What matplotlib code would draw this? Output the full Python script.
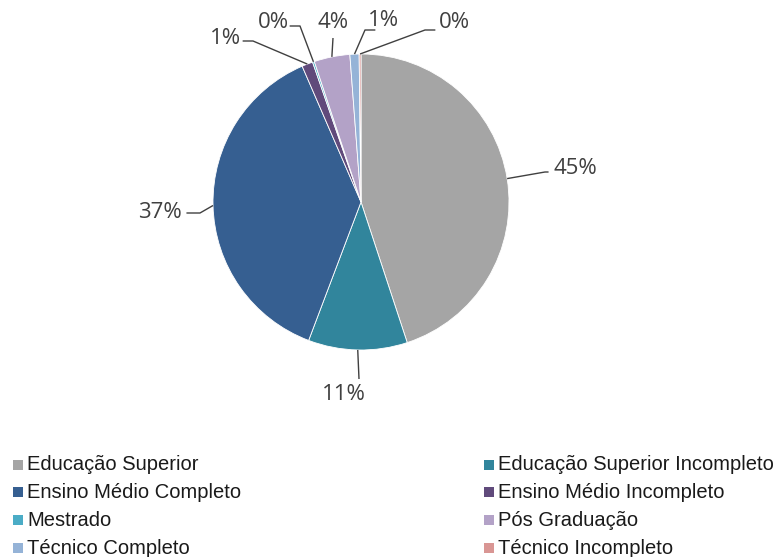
import numpy as np
import matplotlib.pyplot as plt
from matplotlib.patches import Rectangle

# dados do gráfico
categorias = ["Educação Superior", "Educação Superior Incompleto",
              "Ensino Médio Completo", "Ensino Médio Incompleto",
              "Mestrado", "Pós Graduação",
              "Técnico Completo", "Técnico Incompleto"]
valores = [44.9, 10.8, 37.7, 1.2, 0.2, 3.9, 1.0, 0.2]
rotulos = ["45%", "11%", "37%", "1%", "0%", "4%", "1%", "0%"]
cores = ["#A5A5A5", "#31859C", "#365F91", "#604A7B",
         "#4BACC6", "#B3A2C7", "#95B3D7", "#D99694"]

W, H = 780, 557
CX, CY, R = 361, 202, 148

# posição dos rótulos (pixels): texto, cotovelo da linha, alinhamento
layout = [
    ((553, 168), (545, 172), "left"),
    ((344, 395), (359, 379), "center"),
    ((182, 212), (200, 213), "right"),
    ((226, 38), (253, 41), "center"),
    ((273, 22), (300, 26), "center"),
    ((333, 22), (333, 38), "center"),
    ((383, 20), (365, 30), "center"),
    ((454, 22), (425, 30), "center"),
]


def px(x, y):
    # pixels da imagem -> coordenadas dos dados do eixo
    return (x - CX) / R, (CY - y) / R


fig = plt.figure(figsize=(W / 100, H / 100), dpi=100)
ax = fig.add_axes([(CX - R) / W, (H - CY - R) / H, 2 * R / W, 2 * R / H])

wedges, _ = ax.pie(valores, colors=cores, startangle=90, counterclock=False,
                   radius=1, wedgeprops=dict(linewidth=0.6, edgecolor="white"))
ax.set_xlim(-1, 1)
ax.set_ylim(-1, 1)
ax.axis("off")

fonte_rot = ["Open Sans", "DejaVu Sans"]
cor_txt = "#404040"
for w, lab, (tpos, elbow, ha) in zip(wedges, rotulos, layout):
    ang = np.deg2rad((w.theta1 + w.theta2) / 2)
    ax0, ay0 = np.cos(ang), np.sin(ang)
    ex, ey = px(*elbow)
    tx, ty = px(*tpos)
    xs, ys = [ax0, ex], [ay0, ey]
    if ha == "left":
        xs.append(tx - 0.03)
        ys.append(ey)
    elif ha == "right":
        xs.append(tx + 0.03)
        ys.append(ey)
    elif tpos[1] < 60 and abs(elbow[0] - tpos[0]) > 5:
        # linha horizontal até o texto
        xs.append(ex + (0.07 if tpos[0] > elbow[0] else -0.07))
        ys.append(ey)
    ax.plot(xs, ys, color=cor_txt, lw=1, clip_on=False, solid_capstyle="butt")
    ax.text(tx, ty, lab, ha=ha, va="center", fontsize=16, color=cor_txt,
            family=fonte_rot, clip_on=False)

# legenda manual em duas colunas
fonte_leg = ["Liberation Sans Narrow", "Liberation Sans", "DejaVu Sans"]
col_x = [13, 484]
row_y = [465, 492, 520, 548]
for i, (nome, cor) in enumerate(zip(categorias, cores)):
    x0 = col_x[i % 2]
    y0 = row_y[i // 2]
    fig.patches.append(Rectangle((x0 / W, (H - y0 - 5) / H), 10 / W, 10 / H,
                                 transform=fig.transFigure, facecolor=cor,
                                 edgecolor="none"))
    fig.text((x0 + 14) / W, (H - y0) / H, nome, ha="left", va="center",
             fontsize=14.5, color="#1a1a1a", family=fonte_leg)

fig.savefig("out.png", dpi=100, facecolor="white")
